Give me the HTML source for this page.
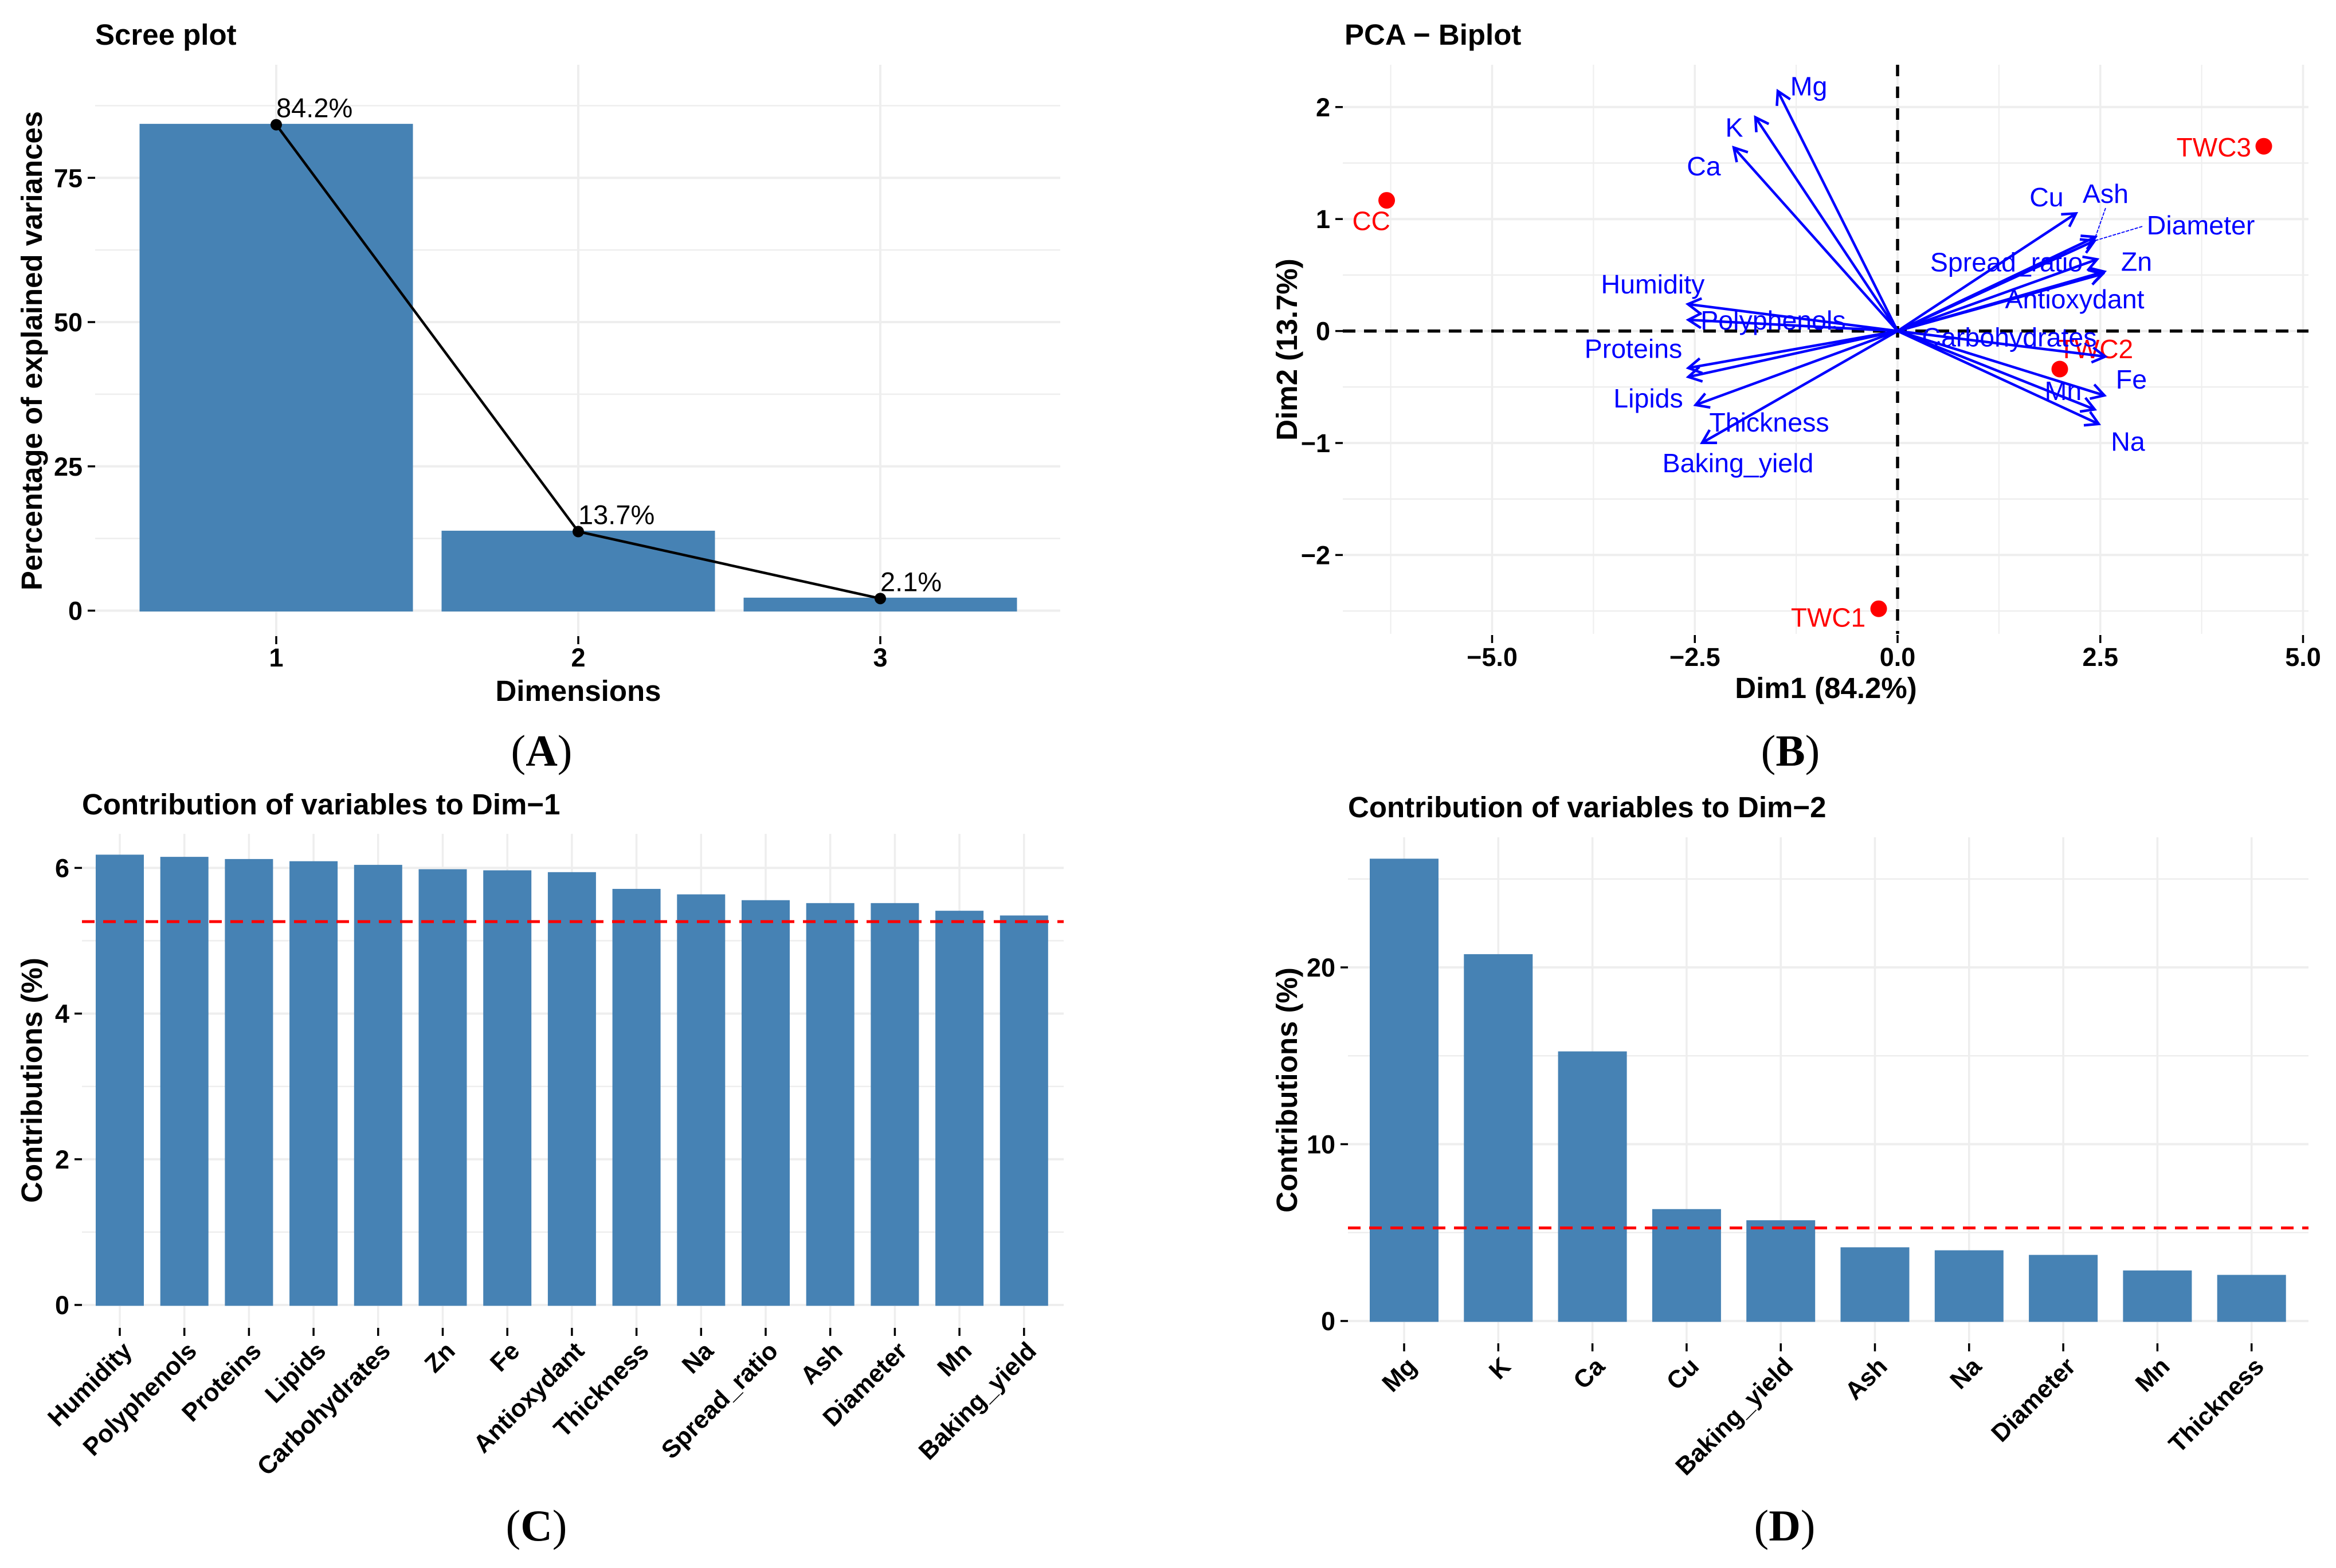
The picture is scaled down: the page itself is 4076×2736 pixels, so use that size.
<!DOCTYPE html>
<html lang="en">
<head>
<meta charset="utf-8">
<title>PCA figure</title>
<style>
html,body{margin:0;padding:0;background:#fff;}
svg{display:block;}
text{font-family:"Liberation Sans",sans-serif;}
.title,.axt{font-weight:bold;font-size:51px;fill:#000;}
.cap{font-family:"Liberation Serif",serif;font-weight:normal;font-size:77px;fill:#000;text-anchor:middle;}
.cap tspan{font-weight:bold;}
</style>
</head>
<body>
<svg id="fig" xmlns="http://www.w3.org/2000/svg" width="4076" height="2736" viewBox="0 0 4076 2736">
<rect width="4076" height="2736" fill="#fff"/>
<g id="pA"></g>
<g id="pB"></g>
<g id="pC"></g>
<g id="pD"></g>

<text class="title" x="166" y="78">Scree plot</text>
<text class="axt" x="1009" y="1223" text-anchor="middle">Dimensions</text>
<text class="axt" transform="translate(73,612) rotate(-90)" text-anchor="middle">Percentage of explained variances</text>
<text class="cap" x="945" y="1336">(<tspan>A</tspan>)</text>

<text class="title" x="2346" y="78">PCA − Biplot</text>
<text class="axt" x="3186" y="1218" text-anchor="middle">Dim1 (84.2%)</text>
<text class="axt" transform="translate(2263,610) rotate(-90)" text-anchor="middle">Dim2 (13.7%)</text>
<text class="cap" x="3124" y="1336">(<tspan>B</tspan>)</text>

<text class="title" x="143" y="1421">Contribution of variables to Dim−1</text>
<text class="axt" transform="translate(73,1885) rotate(-90)" text-anchor="middle">Contributions (%)</text>
<text class="cap" x="936" y="2688">(<tspan>C</tspan>)</text>

<text class="title" x="2352" y="1426">Contribution of variables to Dim−2</text>
<text class="axt" transform="translate(2263,1902) rotate(-90)" text-anchor="middle">Contributions (%)</text>
<text class="cap" x="3114" y="2688">(<tspan>D</tspan>)</text>
</svg>

<script>
// ---- Panel A data ----
const screeDims = [1, 2, 3];
const screeValues = [84.2, 13.7, 2.1];
const screeYTicks = [0, 25, 50, 75];

// ---- Panel B data ----
const varNames = ['Humidity','Polyphenols','Proteins','Lipids','Carbohydrates','Zn','Fe','Antioxydant','Thickness','Na','Spread_ratio','Ash','Diameter','Mn','Baking_yield','Cu','Mg','K','Ca'];
const varDim1 = [-2.585,-2.58,-2.58,-2.58,2.56,2.55,2.55,2.53,-2.49,2.48,2.46,2.44,2.43,2.43,-2.41,2.2,-1.477,-1.753,-2.02];
const varDim2 = [0.24,0.10,-0.33,-0.41,-0.228,0.53,-0.575,0.51,-0.66,-0.83,0.64,0.84,0.806,-0.70,-0.998,1.05,2.143,1.908,1.638];
const varLabelDim1 = [-3.018,-1.534,-3.258,-3.074,1.378,2.947,2.883,2.184,-1.583,2.841,1.343,2.565,3.739,2.042,-1.968,1.837,-1.095,-2.014,-2.389];
const varLabelDim2 = [0.337,0.013,-0.24,-0.683,-0.138,0.537,-0.514,0.203,-0.898,-1.07,0.533,1.144,0.863,-0.616,-1.261,1.114,2.104,1.735,1.39];
const connectorVars = ['Ash','Diameter'];
const connectorDim1 = [2.565,3.018];
const connectorDim2 = [1.098,0.934];
const indNames = ['CC','TWC1','TWC2','TWC3'];
const indDim1 = [-6.3,-0.233,2.0,4.516];
const indDim2 = [1.167,-2.48,-0.34,1.65];
const indLabelDim1 = [-6.49,-0.855,2.445,3.9];
const indLabelDim2 = [0.9,-2.64,-0.243,1.558];
const biplotXTicks = [-5,-2.5,0,2.5,5];
const biplotYTicks = [-2,-1,0,1,2];

// ---- Panel C data ----
const dim1Names = ['Humidity','Polyphenols','Proteins','Lipids','Carbohydrates','Zn','Fe','Antioxydant','Thickness','Na','Spread_ratio','Ash','Diameter','Mn','Baking_yield'];
const dim1Values = [6.17,6.14,6.11,6.08,6.03,5.97,5.955,5.93,5.70,5.625,5.545,5.505,5.505,5.40,5.335];
const dim1Ticks = [0,2,4,6];
const dim1Reference = 5.263;

// ---- Panel D data ----
const dim2Names = ['Mg','K','Ca','Cu','Baking_yield','Ash','Na','Diameter','Mn','Thickness'];
const dim2Values = [26.1,20.7,15.2,6.28,5.65,4.12,3.95,3.69,2.81,2.56];
const dim2Ticks = [0,10,20];
const dim2Reference = 5.263;

const NS = 'http://www.w3.org/2000/svg';
const GRID = '#eeeeee', BAR = '#4682b4';
function mk(tag, parent, attrs, txt){
  const e = document.createElementNS(NS, tag);
  for (const k in attrs) e.setAttribute(k, attrs[k]);
  if (txt !== undefined) e.textContent = txt;
  parent.appendChild(e);
  return e;
}
function fmtMinus(s){ return String(s).replace('-', '\u2212'); }
function hGrid(p, y, x0, x1, w){
  const el = mk('line', p, {x1:x0, x2:x1, y1:y, y2:y, stroke:GRID, 'stroke-width':w});
  
  
}
function vGrid(p, x, y0, y1, w){
  const el = mk('line', p, {x1:x, x2:x, y1:y0, y2:y1, stroke:GRID, 'stroke-width':w});
  
  
}
function yTick(p, y, x1, label){
  const t = mk('line', p, {x1:x1-13, x2:x1, y1:y, y2:y, stroke:'#000', 'stroke-width':3.5});
  
  
  const l = mk('text', p, {x:x1-22, y:y+16, 'text-anchor':'end', 'font-size':45, 'font-weight':'bold', fill:'#000'}, label);
  
  
}
function xTickMark(p, x, y0, y1){
  const t = mk('line', p, {x1:x, x2:x, y1:y0, y2:y1, stroke:'#000', 'stroke-width':3.5});
  
  
}

// ===== Panel A =====
(function(){
  const p = document.getElementById('pA');
  const xA = d => 482 + (d - 1) * 527;
  const yA = v => 1065.5 - v * 10.07;
  const L = 166, R = 1850, T = 113, B = 1110;
  screeYTicks.forEach(v => {
    const mid = v + 12.5;
    hGrid(p, yA(mid), L, R, 2.5);
    hGrid(p, yA(v), L, R, 4);
  });
  screeDims.forEach(d => vGrid(p, xA(d), T, B, 4));
  screeDims.forEach((d, i) => {
    const b = mk('rect', p, {x:xA(d)-237, y:yA(screeValues[i]), width:474, height:yA(0)-yA(screeValues[i]), fill:BAR, stroke:BAR, 'stroke-width':3});
    
    
  });
  const line = mk('polyline', p, {points:screeDims.map((d,i)=>xA(d)+','+yA(screeValues[i])).join(' '), fill:'none', stroke:'#000', 'stroke-width':4.5});
  
  
  screeDims.forEach((d, i) => {
    const c = mk('circle', p, {cx:xA(d), cy:yA(screeValues[i]), r:10, fill:'#000'});
    
    
    const t = mk('text', p, {x:xA(d), y:yA(screeValues[i])-13, 'font-size':47, fill:'#000'}, screeValues[i].toFixed(1)+'%');
    
    
    xTickMark(p, xA(d), 1110, 1124);
    const l = mk('text', p, {x:xA(d), y:1163, 'text-anchor':'middle', 'font-size':45, 'font-weight':'bold', fill:'#000'}, d);
    
    
  });
  screeYTicks.forEach(v => yTick(p, yA(v), 166, v));
})();

// ===== Panel B =====
(function(){
  const p = document.getElementById('pB');
  const xB = v => 3311 + v * 141.5;
  const yB = v => 577.6 - v * 195.4;
  const L = 2343, R = 4028, T = 113, B = 1106;
  biplotYTicks.forEach(v => { hGrid(p, yB(v), L, R, 4); hGrid(p, yB(v - 0.5), L, R, 2.5); });
  biplotXTicks.forEach(v => { vGrid(p, xB(v), T, B, 3.5); vGrid(p, xB(v - 1.25), T, B, 2); });
  const h0 = mk('line', p, {x1:L, x2:R, y1:yB(0), y2:yB(0), stroke:'#000', 'stroke-width':5.5, 'stroke-dasharray':'22 15'});
  
  
  const v0 = mk('line', p, {x1:xB(0), x2:xB(0), y1:T, y2:B, stroke:'#000', 'stroke-width':5.5, 'stroke-dasharray':'20 18'});
  
  

  indNames.forEach((n, i) => {
    const c = mk('circle', p, {cx:xB(indDim1[i]), cy:yB(indDim2[i]), r:14.5, fill:'#ff0000'});
    
    
    const t = mk('text', p, {x:xB(indLabelDim1[i]), y:yB(indLabelDim2[i]), 'text-anchor':'middle', 'font-size':46, fill:'#ff0000'}, n);
    
    
  });

  const hl = 26, ang = Math.PI / 6;
  varNames.forEach((n, i) => {
    const x = xB(varDim1[i]), y = yB(varDim2[i]);
    const x0 = xB(0), y0 = yB(0);
    const a = Math.atan2(y - y0, x - x0);
    const s = mk('line', p, {x1:x0, y1:y0, x2:x, y2:y, stroke:'#0000ff', 'stroke-width':4.5});
    
    
    const pts = [
      (x - hl * Math.cos(a - ang)) + ',' + (y - hl * Math.sin(a - ang)),
      x + ',' + y,
      (x - hl * Math.cos(a + ang)) + ',' + (y - hl * Math.sin(a + ang))
    ].join(' ');
    const h = mk('polyline', p, {points:pts, fill:'none', stroke:'#0000ff', 'stroke-width':4.5});
    
    
  });
  connectorVars.forEach((n, i) => {
    const k = varNames.indexOf(n);
    const c = mk('line', p, {x1:xB(connectorDim1[i]), y1:yB(connectorDim2[i]), x2:xB(varDim1[k]), y2:yB(varDim2[k]), stroke:'#0000ff', 'stroke-width':1.8, 'stroke-dasharray':'6 2'});
    
    
  });
  varNames.forEach((n, i) => {
    const t = mk('text', p, {x:xB(varLabelDim1[i]), y:yB(varLabelDim2[i]), 'text-anchor':'middle', 'font-size':46.5, fill:'#0000ff'}, n);
    
    
  });
  biplotYTicks.forEach(v => yTick(p, yB(v), 2343, fmtMinus(v)));
  biplotXTicks.forEach(v => {
    xTickMark(p, xB(v), 1108, 1122);
    const l = mk('text', p, {x:xB(v), y:1162, 'text-anchor':'middle', 'font-size':45, 'font-weight':'bold', fill:'#000'}, fmtMinus(v.toFixed(1)));
    
    
  });
})();

// ===== Contribution panels =====
function contributions(p, names, values, ticks, ref, g){
  const xC = i => g.x0 + i * g.step;
  const yC = v => g.y0 - v * g.unit;
  ticks.forEach(v => {
    hGrid(p, yC(v), g.L, g.R, 4);
    if (v + g.tickStep / 2 <= g.maxV) hGrid(p, yC(v + g.tickStep / 2), g.L, g.R, 2.5);
  });
  names.forEach((n, i) => vGrid(p, xC(i), g.T, g.B, 3.5));
  names.forEach((n, i) => {
    const b = mk('rect', p, {x:xC(i)-g.bw/2, y:yC(values[i]), width:g.bw, height:yC(0)-yC(values[i]), fill:BAR, stroke:BAR, 'stroke-width':3});
    
    
  });
  const r = mk('line', p, {x1:g.L, x2:g.R, y1:yC(ref), y2:yC(ref), stroke:'#ff0000', 'stroke-width':5, 'stroke-dasharray':'22 15'});
  
  
  ticks.forEach(v => yTick(p, yC(v), g.L, v));
  names.forEach((n, i) => {
    xTickMark(p, xC(i), g.B, g.B + 14);
    const t = mk('text', p, {'text-anchor':'end', 'font-size':43.5, 'font-weight':'bold', fill:'#000', transform:'translate(' + (xC(i) + 24) + ',' + g.labelY + ') rotate(-45)'}, n);
    
    
  });
}
contributions(document.getElementById('pC'), dim1Names, dim1Values, dim1Ticks, dim1Reference,
  {x0:209, step:112.7, y0:2277, unit:127.1, L:143, R:1856, T:1455, B:2317, bw:81, tickStep:2, maxV:6, labelY:2360});
contributions(document.getElementById('pD'), dim2Names, dim2Values, dim2Ticks, dim2Reference,
  {x0:2450, step:164.3, y0:2305, unit:30.85, L:2352, R:4028, T:1461, B:2344, bw:117, tickStep:10, maxV:25, labelY:2387});
</script>
</body>
</html>
